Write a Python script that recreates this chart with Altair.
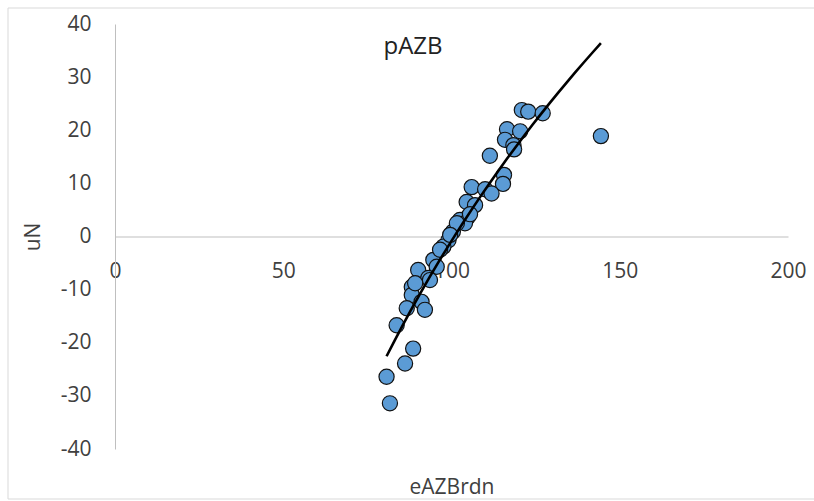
import altair as alt
import pandas as pd

x_vals = [120.9, 122.8, 127.1, 116.5, 120.4, 115.9, 118.4, 118.6, 111.4, 144.4,
          115.6, 115.3, 106.0, 110.0, 111.9, 104.5, 107.0, 104.9, 102.5, 104.0,
          100.4, 99.1, 97.6, 94.6, 95.6, 90.1, 93.1, 88.2, 88.2, 91.1,
          93.6, 92.1, 86.7, 83.7, 88.6, 86.2, 80.7, 81.7, 101.6, 105.5,
          96.6, 89.2, 99.6]
y_vals = [23.8, 23.5, 23.2, 20.2, 19.8, 18.2, 17.2, 16.4, 15.2, 18.9,
          11.6, 9.9, 9.3, 8.9, 8.1, 6.5, 5.9, 3.7, 3.1, 2.5,
          0.9, -0.7, -1.9, -4.4, -5.7, -6.3, -7.8, -9.5, -11.0, -12.3,
          -8.2, -13.8, -13.5, -16.7, -21.1, -23.9, -26.4, -31.4, 2.5, 4.2,
          -2.5, -8.8, 0.3]
x_ticks = [0, 50, 100, 150, 200]
y_ticks = [-40, -30, -20, -10, 0, 10, 20, 30, 40]

df = pd.DataFrame({"eAZBrdn": x_vals, "uN": y_vals})

FONT = "Open Sans"
LABEL = "#404040"
AXIS = "#BFBFBF"

W, H = 673, 425

xs = alt.Scale(domain=[0, 200], nice=False, zero=False)
ys = alt.Scale(domain=[-40, 40], nice=False, zero=False)

x_enc = alt.X("eAZBrdn:Q", scale=xs,
              axis=alt.Axis(values=x_ticks, grid=False, ticks=False, domainColor=AXIS,
                            offset=-212.5, labelPadding=24, labelFontSize=21,
                            labelFont=FONT, labelColor=LABEL, title="eAZBrdn",
                            labelExpr="'' + datum.value",
                            titleFont=FONT, titleFontSize=21, titleFontWeight="normal",
                            titleColor=LABEL, titleY=257, titleBaseline="alphabetic",
                            labelFlush=False))
y_enc = alt.Y("uN:Q", scale=ys,
              axis=alt.Axis(values=y_ticks, grid=False, ticks=False, domainColor=AXIS,
                            labelPadding=24, labelFontSize=21, labelFont=FONT,
                            labelExpr="'' + datum.value",
                            labelColor=LABEL, title="uN", titleFont=FONT,
                            titleFontSize=21, titleFontWeight="normal", titleColor=LABEL,
                            titleX=-82, titleBaseline="middle", labelFlush=False))

points = alt.Chart(df).mark_point(
    shape="circle", filled=True, fill="#5B9BD5", stroke="#111111",
    strokeWidth=1.2, size=230, opacity=1
).encode(x=x_enc, y=y_enc)

trend = alt.Chart(df).transform_regression(
    "eAZBrdn", "uN", method="log"
).mark_line(color="black", strokeWidth=2.6).encode(
    x=alt.X("eAZBrdn:Q", scale=xs),
    y=alt.Y("uN:Q", scale=ys),
)

title = alt.Chart(pd.DataFrame({"t": ["pAZB"]})).mark_text(
    font=FONT, fontSize=24, color="#222222", baseline="alphabetic", align="center"
).encode(text="t:N", x=alt.value(298), y=alt.value(30))

frame = alt.Chart(pd.DataFrame({"t": [0]})).mark_rect(
    fill=None, stroke="#D9D9D9", strokeWidth=1
).encode(x=alt.value(-107), x2=alt.value(W + 40), y=alt.value(-16), y2=alt.value(H + 50))

chart = alt.layer(frame, points, trend, title).properties(
    width=W, height=H,
    autosize=alt.AutoSizeParams(type="none"),
    padding={"left": 115, "top": 24, "right": 26, "bottom": 52},
    background="white",
).configure_view(stroke=None)

chart.save("out.html", embed_options={"renderer": "svg", "actions": False})
